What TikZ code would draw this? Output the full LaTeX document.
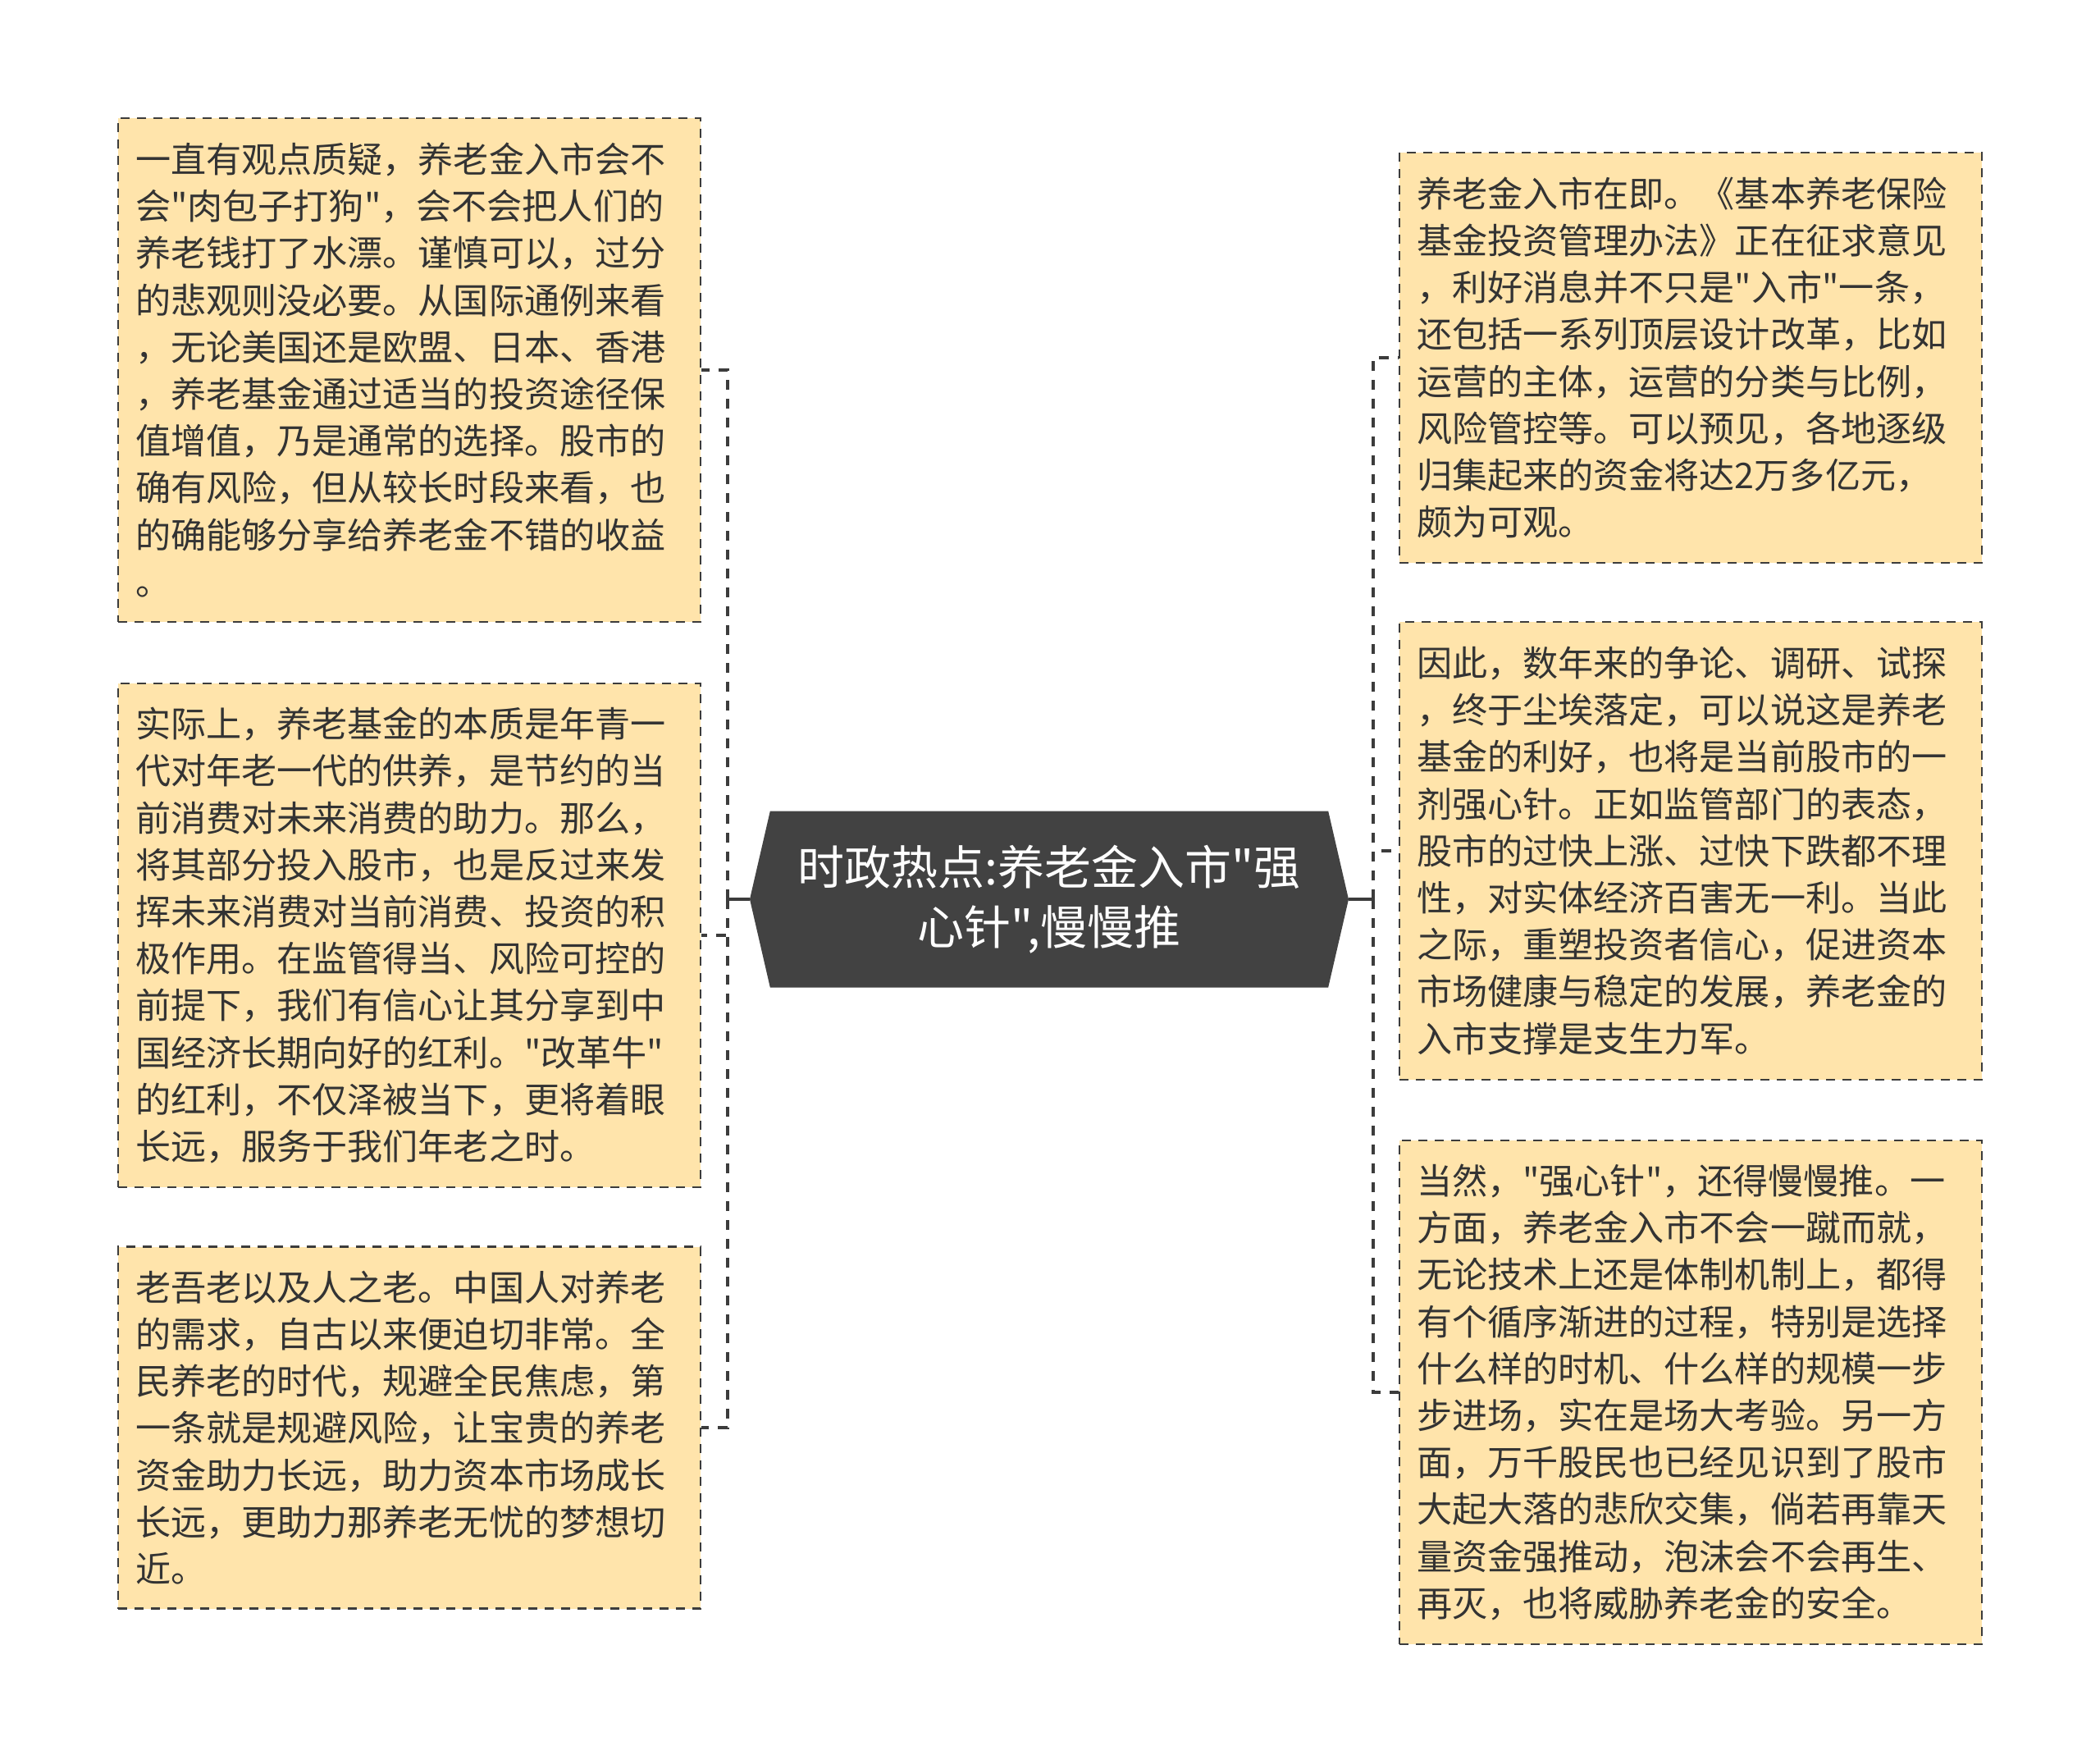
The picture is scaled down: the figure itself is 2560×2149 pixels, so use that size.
\documentclass[tikz,border=0pt]{standalone}
\usepackage{fontspec}
\setmainfont{Noto Sans CJK SC}[Ligatures=TeXOff]
\usetikzlibrary{shapes.symbols}
\definecolor{memo}{RGB}{255,228,171}
\definecolor{hubgray}{RGB}{66,66,66}
\definecolor{inkgray}{RGB}{51,51,51}
\definecolor{linegray}{RGB}{60,60,60}

\begin{document}
\begin{tikzpicture}[x=0.5pt, y=-0.5pt,
  memobox/.style={draw=linegray, line width=1.2pt, dash pattern=on 5.5pt off 4.5pt, fill=memo, text=inkgray,
    inner sep=10.5pt, minimum width=355pt, text width=334pt, align=left, font=\fontsize{21.55pt}{28.6pt}\selectfont},
  hub/.style={signal, signal to=west and east, signal pointer angle=154, fill=hubgray, text=white,
    minimum width=365pt, minimum height=107.5pt, align=center, font=\fontsize{28.5pt}{36.7pt}\selectfont},
  trunk/.style={draw=linegray, line width=1.7pt},
  link/.style={trunk, line width=2pt, dash pattern=on 6pt off 5.5pt}]
\useasboundingbox (0,0) rectangle (2560,2149);

\node[hub] (hub) at (1279,1096) {时政热点:养老金入市"强\\心针",慢慢推};

\node[memobox, minimum height=307pt] (l1) at (499,451) {一直有观点质疑，养老金入市会不\\会"肉包子打狗"，会不会把人们的\\养老钱打了水漂。谨慎可以，过分\\的悲观则没必要。从国际通例来看\\，无论美国还是欧盟、日本、香港\\，养老基金通过适当的投资途径保\\值增值，乃是通常的选择。股市的\\确有风险，但从较长时段来看，也\\的确能够分享给养老金不错的收益\\。};
\node[memobox, minimum height=307pt] (l2) at (499,1140) {实际上，养老基金的本质是年青一\\代对年老一代的供养，是节约的当\\前消费对未来消费的助力。那么，\\将其部分投入股市，也是反过来发\\挥未来消费对当前消费、投资的积\\极作用。在监管得当、风险可控的\\前提下，我们有信心让其分享到中\\国经济长期向好的红利。"改革牛"\\的红利，不仅泽被当下，更将着眼\\长远，服务于我们年老之时。};
\node[memobox, minimum height=220.5pt] (l3) at (499,1740) {老吾老以及人之老。中国人对养老\\的需求，自古以来便迫切非常。全\\民养老的时代，规避全民焦虑，第\\一条就是规避风险，让宝贵的养老\\资金助力长远，助力资本市场成长\\长远，更助力那养老无忧的梦想切\\近。};

\node[memobox, minimum height=250pt] (r1) at (2061,436) {养老金入市在即。《基本养老保险\\基金投资管理办法》正在征求意见\\，利好消息并不只是"入市"一条，\\还包括一系列顶层设计改革，比如\\运营的主体，运营的分类与比例，\\风险管控等。可以预见，各地逐级\\归集起来的资金将达2万多亿元，\\颇为可观。};
\node[memobox, minimum height=279pt] (r2) at (2061,1037) {因此，数年来的争论、调研、试探\\，终于尘埃落定，可以说这是养老\\基金的利好，也将是当前股市的一\\剂强心针。正如监管部门的表态，\\股市的过快上涨、过快下跌都不理\\性，对实体经济百害无一利。当此\\之际，重塑投资者信心，促进资本\\市场健康与稳定的发展，养老金的\\入市支撑是支生力军。};
\node[memobox, minimum height=307pt] (r3) at (2061,1697) {当然，"强心针"，还得慢慢推。一\\方面，养老金入市不会一蹴而就，\\无论技术上还是体制机制上，都得\\有个循序渐进的过程，特别是选择\\什么样的时机、什么样的规模一步\\步进场，实在是场大考验。另一方\\面，万千股民也已经见识到了股市\\大起大落的悲欣交集，倘若再靠天\\量资金强推动，泡沫会不会再生、\\再灭，也将威胁养老金的安全。};

% left branch
\coordinate (lj) at (887,1096);
\draw[trunk] (hub.west) -- (lj);
\draw[link] (lj) |- (l1.east);
\draw[link] (lj) |- (l2.east);
\draw[link] (lj) |- (l3.east);

% right branch
\coordinate (rj) at (1674,1096);
\draw[trunk] (hub.east) -- (rj);
\draw[link] (rj) |- (r1.west);
\draw[link] (rj) |- (r2.west);
\draw[link] (rj) |- (r3.west);
\end{tikzpicture}
\end{document}
